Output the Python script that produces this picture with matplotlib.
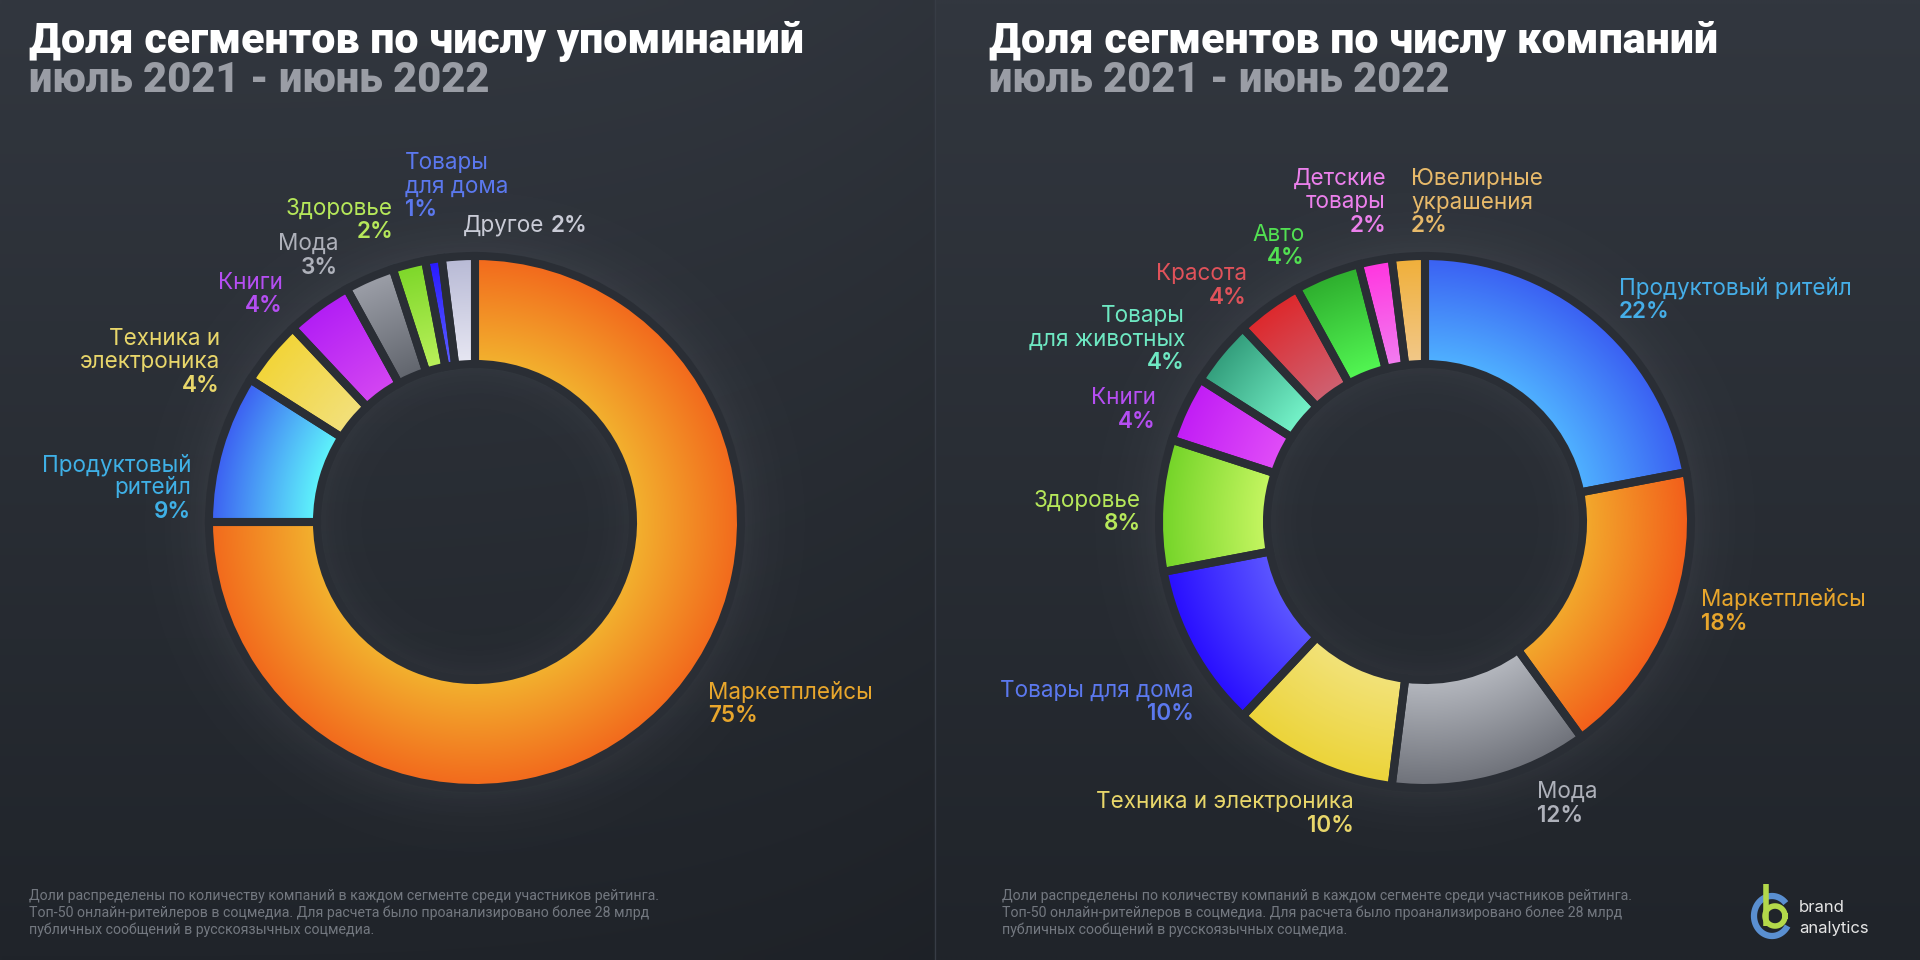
import numpy as np
import matplotlib.pyplot as plt
from matplotlib.colors import to_rgb

plt.rcParams['font.family'] = ['Inter', 'DejaVu Sans']

W, H = 1920, 960

# --- data: share of segments by mentions (left) ---
mention_names = ['Маркетплейсы', 'Продуктовый\nритейл', 'Техника и\nэлектроника', 'Книги',
                 'Мода', 'Здоровье', 'Товары\nдля дома', 'Другое']
mention_share = [75, 9, 4, 4, 3, 2, 1, 2]
mention_outer = ['#f26b1d', '#3d63f2', '#f2d53a', '#b31ff5', '#9a9da6', '#7fd82b', '#2a1cff', '#b9bbd6']
mention_inner = ['#f3b02e', '#5ef2fb', '#f2e07a', '#d345f2', '#62666e', '#b9f05a', '#5a5cff', '#e6e6f2']
mention_text = ['#e8a62c', '#3fb0e6', '#e8d66a', '#b54ef2', '#aeb1ba', '#b6e85a', '#5b78ee', '#c9cbd6']

# --- data: share of segments by companies (right) ---
company_names = ['Продуктовый ритейл', 'Маркетплейсы', 'Мода', 'Техника и электроника',
                 'Товары для дома', 'Здоровье', 'Книги', 'Товары\nдля животных', 'Красота',
                 'Авто', 'Детские\nтовары', 'Ювелирные\nукрашения']
company_share = [22, 18, 12, 10, 10, 8, 4, 4, 4, 4, 2, 2]
company_outer = ['#3b62f3', '#f2601b', '#70737b', '#ecd43a', '#2a10ff', '#76d52a',
                 '#c21ef5', '#35a07e', '#dd2a2e', '#2fb02f', '#ff38e0', '#f0b03c']
company_inner = ['#4fb0ff', '#f2a82c', '#b3b6bd', '#f2e278', '#5b55ff', '#c4f560',
                 '#e04cf8', '#74f2c8', '#cf6070', '#52f552', '#f27cf0', '#f2c888']
company_text = ['#45aee8', '#e8a62c', '#aeb1ba', '#e8d66a', '#5b78ee', '#b6e85a',
                '#b54ef2', '#6ee8c2', '#e0525a', '#52e052', '#ec80ec', '#e8ba6a']

# label anchors (image pixels: x, y of first line, alignment)
mention_pos = [(708, 693, 'left'), (191, 465, 'right'), (220, 339, 'right'), (283, 283, 'right'),
               (338, 244, 'right'), (393, 209, 'right'), (405, 163, 'left'), (463, 226, 'left')]
company_pos = [(1619, 288, 'left'), (1701, 600, 'left'), (1537, 792, 'left'), (1354, 802, 'right'),
               (1194, 691, 'right'), (1141, 501, 'right'), (1156, 398, 'right'), (1185, 316, 'right'),
               (1247, 274, 'right'), (1305, 235, 'right'), (1386, 179, 'right'), (1411, 179, 'left')]

R_OUT, R_IN = 262, 162
LINE = 23.5
FS = 16.2
GAP = '#2a2e35'

note = ('Доли распределены по количеству компаний в каждом сегменте среди участников рейтинга.\n'
        'Топ-50 онлайн-ритейлеров в соцмедиа. Для расчета было проанализировано более 28 млрд\n'
        'публичных сообщений в русскоязычных соцмедиа.')


def y_(y):
    return H - y


def background(ax):
    top = np.array(to_rgb('#32373f'))
    bot = np.array(to_rgb('#20242a'))
    v = np.linspace(0, 1, 120)[:, None, None]
    xs = np.linspace(0, W, 384)
    img = top + (bot - top) * v
    img = np.repeat(img, len(xs), axis=1)
    shade = np.where(xs < 935, 1 - 0.07 * (xs / 935) ** 4, 1.0)
    img = img * shade[None, :, None]
    ax.imshow(img, extent=(0, W, 0, H), origin='upper', aspect='auto', zorder=0,
              interpolation='bilinear')
    ax.plot([935, 935], [0, H], color='#373c45', lw=1, zorder=0.5)


def glow(ax, cx, cy):
    s = R_OUT + 80
    xs = np.linspace(cx - s, cx + s, 500)
    ys = np.linspace(cy - s, cy + s, 500)
    X, Y = np.meshgrid(xs, ys)
    r = np.hypot(X - cx, Y - cy)
    a = np.where(r > R_OUT, 0.09 * np.exp(-(r - R_OUT) / 28), 0)
    a = a + np.where(r < R_IN, 0.07 * np.exp(-(R_IN - r) / 22), 0)
    img = np.zeros(X.shape + (4,))
    img[..., :3] = to_rgb('#c8c8d2')
    img[..., 3] = a
    ax.imshow(img, extent=(cx - s, cx + s, cy - s, cy + s), origin='lower', zorder=1,
              interpolation='bilinear')


def donut(ax, cx, cy, values, outer, inner):
    glow(ax, cx, cy)
    wedges, _ = ax.pie(values, center=(cx, cy), radius=R_OUT + 4, startangle=90,
                       counterclock=False, frame=True,
                       wedgeprops=dict(width=R_OUT - R_IN + 8, edgecolor=GAP,
                                       linewidth=5.8, facecolor='none', zorder=3))
    xs = np.linspace(cx - R_OUT - 5, cx + R_OUT + 5, 420)
    ys = np.linspace(cy - R_OUT - 5, cy + R_OUT + 5, 420)
    X, Y = np.meshgrid(xs, ys)
    t = np.clip((np.hypot(X - cx, Y - cy) - R_IN) / (R_OUT - R_IN), 0, 1)[..., None]
    for w, co, ci in zip(wedges, outer, inner):
        c1, c2 = np.array(to_rgb(ci)), np.array(to_rgb(co))
        img = c1 + (c2 - c1) * t
        im = ax.imshow(img, extent=(xs[0], xs[-1], ys[0], ys[-1]), origin='lower',
                       zorder=2, interpolation='bilinear')
        im.set_clip_path(w)


def label(ax, x, y, ha, name, pct, color):
    lines = name.split('\n')
    for i, line in enumerate(lines):
        ax.text(x, y_(y + i * LINE), line, color=color, ha=ha, va='center', fontsize=FS)
    ax.text(x, y_(y + len(lines) * LINE), f'{pct}%', color=color, ha=ha, va='center',
            fontsize=FS, fontweight='semibold')


fig = plt.figure(figsize=(19.2, 9.6), dpi=100)
ax = fig.add_axes([0, 0, 1, 1])
background(ax)

donut(ax, 475, y_(522), mention_share, mention_outer, mention_inner)
donut(ax, 1425, y_(522), company_share, company_outer, company_inner)

for i, (name, pct, col) in enumerate(zip(mention_names, mention_share, mention_text)):
    x, y, ha = mention_pos[i]
    if name == 'Другое':
        ax.text(x, y_(y), name, color=col, ha='left', va='center', fontsize=FS)
        ax.text(551, y_(y), f'{pct}%', color=col, ha='left', va='center', fontsize=FS,
                fontweight='semibold')
    else:
        label(ax, x, y, ha, name, pct, col)

for i, (name, pct, col) in enumerate(zip(company_names, company_share, company_text)):
    x, y, ha = company_pos[i]
    label(ax, x, y, ha, name, pct, col)

# titles
for x0, title in [(29, 'Доля сегментов по числу упоминаний'), (989, 'Доля сегментов по числу компаний')]:
    ax.text(x0, y_(41), title, color='white', fontsize=31, fontweight='black',
            ha='left', va='center', family=['Roboto', 'DejaVu Sans'])
    ax.text(x0, y_(80), 'июль 2021 - июнь 2022', color='#9a9da5', fontsize=30,
            fontweight='black', ha='left', va='center', family=['Roboto', 'DejaVu Sans'])

# footnotes
for x0 in (29, 1002):
    ax.text(x0, y_(889), note, color='#737880', fontsize=10.2, ha='left', va='top',
            linespacing=1.22, family=['Roboto', 'DejaVu Sans'])

# logo
th = np.linspace(np.radians(40), np.radians(330), 80)
ax.plot(1772 + 18 * np.cos(th), y_(916) + 20 * np.sin(th), color='#5a8fd0', lw=4.5,
        solid_capstyle='butt', zorder=4)
ax.plot([1766, 1766], [y_(884), y_(926)], color='#b3d84a', lw=4, solid_capstyle='butt', zorder=5)
th2 = np.linspace(0, 2 * np.pi, 80)
ax.plot(1775 + 10 * np.cos(th2), y_(916) + 10 * np.sin(th2), color='#b3d84a', lw=4, zorder=5)
ax.text(1799, y_(907), 'brand', color='#e6e6e6', fontsize=12, ha='left', va='center')
ax.text(1799, y_(928), 'analytics', color='#e6e6e6', fontsize=12, ha='left', va='center')

ax.set_xlim(0, W)
ax.set_ylim(0, H)
ax.set_aspect('auto')
ax.axis('off')
fig.savefig('out.png', dpi=100)
